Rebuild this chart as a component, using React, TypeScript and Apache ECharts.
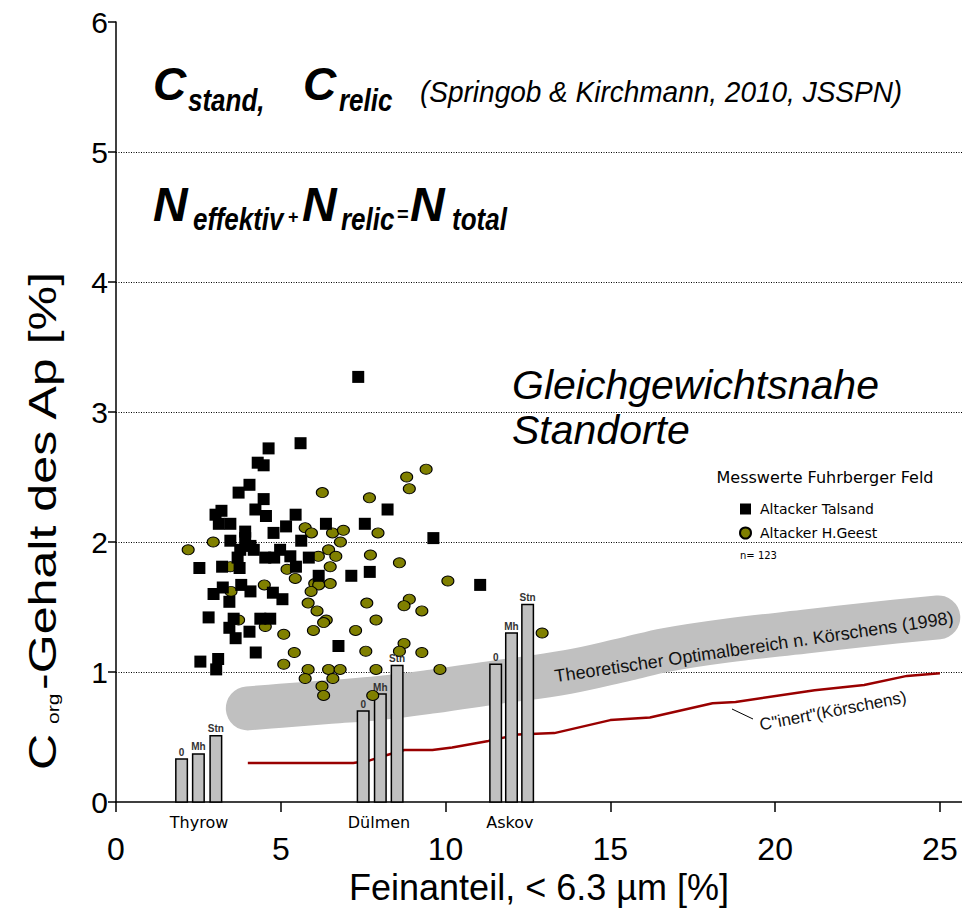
import React, { useEffect, useRef } from 'react';
import * as echarts from 'echarts';

// ---------- data ----------
const xTicks = [0, 5, 10, 15, 20, 25];
const yTicks = [0, 1, 2, 3, 4, 5, 6];

// Messwerte Fuhrberger Feld – Altacker Talsand (squares)
const talsandX = [7.35, 4.63, 5.60, 4.30, 4.48, 4.05, 3.72, 4.48, 8.24, 4.23, 3.02, 3.20, 3.12, 3.47, 4.55, 5.45, 5.16, 6.37, 7.55, 4.78, 3.92, 3.92, 3.47, 4.08, 5.62, 9.63, 3.77, 4.18, 4.98, 4.53, 4.80, 5.29, 5.85, 3.69, 2.53, 3.22, 3.75, 5.46, 6.15, 7.14, 7.70, 11.05, 3.80, 3.24, 2.96, 4.08, 4.76, 5.05, 3.44, 2.81, 3.57, 4.38, 4.68, 3.44, 4.05, 3.63, 6.75, 4.24, 2.56, 3.10, 3.04];
const talsandY = [3.27, 2.72, 2.76, 2.61, 2.59, 2.44, 2.38, 2.33, 2.25, 2.25, 2.21, 2.24, 2.14, 2.14, 2.20, 2.21, 2.12, 2.14, 2.14, 2.07, 2.08, 2.03, 2.01, 1.97, 2.01, 2.03, 1.94, 1.94, 1.94, 1.88, 1.88, 1.89, 1.88, 1.88, 1.80, 1.81, 1.80, 1.81, 1.74, 1.74, 1.77, 1.67, 1.67, 1.65, 1.60, 1.62, 1.61, 1.56, 1.54, 1.42, 1.41, 1.41, 1.41, 1.34, 1.31, 1.26, 1.20, 1.15, 1.08, 1.10, 1.02];

// Altacker H.Geest (olive circles)
const geestX = [9.41, 8.82, 8.90, 6.26, 7.69, 5.74, 5.93, 6.57, 6.90, 7.95, 6.81, 2.19, 2.95, 6.45, 6.14, 6.67, 7.72, 8.60, 6.50, 3.47, 5.19, 5.44, 6.50, 6.03, 6.15, 4.50, 10.07, 3.49, 5.92, 7.61, 8.90, 8.74, 9.28, 5.83, 6.10, 7.89, 6.38, 6.30, 3.72, 4.53, 5.99, 7.27, 5.09, 8.74, 8.60, 9.28, 7.58, 5.41, 5.09, 5.83, 6.45, 6.80, 7.89, 9.83, 5.74, 6.58, 6.25, 6.30, 7.79, 12.93];
const geestY = [2.56, 2.50, 2.41, 2.38, 2.34, 2.11, 2.07, 2.07, 2.09, 2.07, 2.00, 1.94, 2.00, 1.94, 1.89, 1.89, 1.90, 1.84, 1.81, 1.81, 1.79, 1.72, 1.68, 1.68, 1.67, 1.67, 1.70, 1.62, 1.62, 1.53, 1.56, 1.51, 1.47, 1.53, 1.47, 1.40, 1.40, 1.38, 1.40, 1.35, 1.32, 1.32, 1.29, 1.22, 1.16, 1.15, 1.16, 1.15, 1.06, 1.02, 1.02, 1.02, 1.02, 1.02, 0.95, 0.95, 0.89, 0.82, 0.82, 1.30];

// Dauerversuche (bars)
const siteNames = ['Thyrow', 'Dülmen', 'Askov'];
const siteX = [2.52, 7.98, 11.95];
const barX = [1.99, 2.50, 3.03, 7.50, 8.02, 8.53, 11.52, 12.00, 12.49];
const barY = [0.33, 0.37, 0.51, 0.70, 0.83, 1.05, 1.06, 1.30, 1.52];
const barLabels = ['0', 'Mh', 'Stn', '0', 'Mh', 'Stn', '0', 'Mh', 'Stn'];

// C "inert" (Körschens)
const inertX = [4.0, 7.2, 7.7, 8.2, 8.75, 9.6, 10.2, 11.3, 12.2, 13.3, 15.0, 16.2, 18.1, 18.8, 21.2, 22.7, 24.0, 25.0];
const inertY = [0.30, 0.30, 0.32, 0.36, 0.40, 0.40, 0.42, 0.47, 0.52, 0.53, 0.63, 0.65, 0.76, 0.77, 0.86, 0.90, 0.97, 0.99];

// Theoretischer Optimalbereich (band centre line)
const bandX = [4.0, 5.0, 6.5, 8.0, 9.6, 11.5, 13.7, 15.5, 16.7, 18.5, 20.9, 23.0, 24.95];
const bandY = [0.72, 0.74, 0.77, 0.80, 0.85, 0.92, 1.00, 1.10, 1.17, 1.24, 1.31, 1.37, 1.42];

// ---------- styling ----------
const FONT = '"Liberation Sans", Arial, sans-serif';
const SMALL = '"DejaVu Sans", sans-serif';
const BAR_HALF = 0.175;

function txt(text: string, x: number, y: number, size: number, opts: any = {}) {
  return {
    type: 'text',
    x,
    y,
    z: 100,
    rotation: opts.rotation || 0,
    scaleX: opts.scaleX || 1,
    scaleY: opts.scaleY || 1,
    style: {
      text,
      fill: opts.fill || '#000',
      fontSize: size,
      fontFamily: opts.family || FONT,
      fontWeight: opts.weight || 'normal',
      fontStyle: opts.style || 'normal',
      align: opts.align || 'left',
      verticalAlign: opts.valign || 'middle',
    },
  };
}

function buildOption() {
  const BI = { weight: 'bold', style: 'italic' };
  const SUB = { weight: 'bold', style: 'italic', scaleY: 1.18 };
  const yRot = { rotation: Math.PI / 2, scaleX: 1.32 };
  return {
    animation: false,
    backgroundColor: '#fff',
    textStyle: { fontFamily: FONT },
    grid: { left: 116, top: 22, width: 846, height: 780, containLabel: false },
    xAxis: {
      type: 'value',
      min: 0,
      max: 25.67,
      axisLine: { show: true, onZero: false, lineStyle: { color: '#000', width: 1.5 } },
      axisTick: { show: true, length: 10, customValues: xTicks, lineStyle: { color: '#000', width: 1.5 } },
      axisLabel: { customValues: xTicks, fontSize: 32, color: '#000', margin: 31, fontFamily: FONT },
      splitLine: { show: false },
      name: 'Feinanteil, < 6.3 µm [%]',
      nameLocation: 'middle',
      nameGap: 62,
      nameTextStyle: { fontSize: 36, color: '#000', fontFamily: FONT },
    },
    yAxis: {
      type: 'value',
      min: 0,
      max: 6,
      interval: 1,
      axisLine: { show: true, lineStyle: { color: '#000', width: 1.5 } },
      axisTick: { show: true, length: 8, lineStyle: { color: '#000', width: 1.5 } },
      axisLabel: { fontSize: 30, color: '#000', margin: 8, fontFamily: FONT, formatter: (v: number) => (yTicks.includes(v) ? String(v) : '') },
      splitLine: { show: true, showMinLine: false, showMaxLine: false, lineStyle: { color: '#000', type: [1, 1.5], width: 1 } },
    },
    legend: {
      left: 734,
      top: 497,
      orient: 'vertical',
      itemGap: 10,
      itemWidth: 11,
      itemHeight: 11,
      textStyle: { fontFamily: SMALL, fontSize: 14, color: '#000', lineHeight: 14, padding: [0, 0, 0, 4] },
      data: [
        { name: 'Altacker Talsand', icon: 'rect' },
        { name: 'Altacker H.Geest', icon: 'circle' },
      ],
    },
    series: [
      {
        type: 'line',
        name: 'Theoretischer Optimalbereich',
        data: bandX.map((x, i) => [x, bandY[i]]),
        symbol: 'none',
        smooth: 0.4,
        silent: true,
        lineStyle: { color: '#c0c0c0', width: 44, cap: 'round', join: 'round' },
        z: 1,
      },
      {
        type: 'line',
        name: 'C inert',
        data: inertX.map((x, i) => [x, inertY[i]]),
        symbol: 'none',
        silent: true,
        lineStyle: { color: '#990000', width: 2.5 },
        z: 2,
      },
      {
        type: 'custom',
        name: 'Dauerversuche',
        data: barX.map((x, i) => [x, barY[i]]),
        z: 3,
        renderItem: (params: any, api: any) => {
          const x = api.value(0);
          const y = api.value(1);
          const p1 = api.coord([x - BAR_HALF, y]);
          const p2 = api.coord([x + BAR_HALF, 0]);
          return {
            type: 'group',
            children: [
              {
                type: 'rect',
                shape: { x: p1[0], y: p1[1], width: p2[0] - p1[0], height: p2[1] - p1[1] },
                style: { fill: '#c0c0c0', stroke: '#000', lineWidth: 1.5 },
              },
              {
                type: 'text',
                x: (p1[0] + p2[0]) / 2,
                y: p1[1] - 2,
                style: {
                  text: barLabels[params.dataIndex],
                  align: 'center',
                  verticalAlign: 'bottom',
                  fontSize: 10,
                  fontWeight: 'bold',
                  fontFamily: FONT,
                  fill: '#333',
                },
              },
            ],
          };
        },
      },
      {
        type: 'custom',
        name: 'Standorte',
        data: siteX.map((x) => [x, 0]),
        z: 3,
        clip: false,
        renderItem: (params: any, api: any) => {
          const p = api.coord([api.value(0), 0]);
          return {
            type: 'text',
            x: p[0],
            y: p[1] + 20,
            style: {
              text: siteNames[params.dataIndex],
              align: 'center',
              verticalAlign: 'middle',
              fontSize: 16,
              fontFamily: SMALL,
              fill: '#000',
            },
          };
        },
      },
      {
        type: 'scatter',
        name: 'Altacker H.Geest',
        data: geestX.map((x, i) => [x, geestY[i]]),
        symbol: 'circle',
        symbolSize: [12, 10],
        itemStyle: { color: '#808000', borderColor: '#000', borderWidth: 1, opacity: 1 },
        z: 5,
      },
      {
        type: 'scatter',
        name: 'Altacker Talsand',
        data: talsandX.map((x, i) => [x, talsandY[i]]),
        symbol: 'rect',
        symbolSize: 12,
        itemStyle: { color: '#000', opacity: 1 },
        z: 6,
      },
    ],
    graphic: [
      // headline 1
      txt('C', 153, 84, 46, BI),
      txt('stand,', 188, 100, 26, SUB),
      txt('C', 303, 84, 46, BI),
      txt('relic', 339, 100, 26, SUB),
      txt('(Springob & Kirchmann, 2010, JSSPN)', 420, 92, 28, { style: 'italic', scaleY: 1.08 }),
      // headline 2
      txt('N', 153, 204, 48, BI),
      txt('effektiv', 193, 219, 26, SUB),
      txt('+', 288, 217, 18, { weight: 'bold' }),
      txt('N', 302, 204, 48, BI),
      txt('relic', 341, 219, 26, SUB),
      txt('=', 397, 214, 20, { weight: 'bold' }),
      txt('N', 410, 204, 48, BI),
      txt('total', 452, 219, 26, SUB),
      // annotation
      txt('Gleichgewichtsnahe', 512, 385, 41, { style: 'italic' }),
      txt('Standorte', 512, 430, 41, { style: 'italic' }),
      // legend header and n
      txt('Messwerte Fuhrberger Feld', 825, 477, 16, { family: SMALL, align: 'center' }),
      txt('n= 123', 740, 555, 10, { family: SMALL }),
      // band and inert labels
      txt('Theoretischer Optimalbereich n. Körschens (1998)', 754, 647, 18, { align: 'center', rotation: 0.147, fill: '#111' }),
      txt('C"inert"(Körschens)', 833, 711, 17, { align: 'center', rotation: 0.19, fill: '#111' }),
      {
        type: 'line',
        z: 100,
        shape: { x1: 732, y1: 709, x2: 753, y2: 719 },
        style: { stroke: '#000', lineWidth: 1 },
      },
      // y axis title with subscript
      txt('C', 43, 770, 38, yRot),
      txt('org', 53, 724, 16, yRot),
      txt('-Gehalt des Ap [%]', 43, 690, 38, yRot),
    ],
  };
}

export default function App() {
  const ref = useRef<HTMLDivElement>(null);
  useEffect(() => {
    if (!ref.current) return;
    const chart = echarts.init(ref.current, null, { renderer: 'svg' });
    chart.setOption(buildOption() as any);
    return () => chart.dispose();
  }, []);
  return (
    <div
      ref={ref}
      style={{ position: 'absolute', left: 0, top: 0, width: 962, height: 913, background: '#fff' }}
    />
  );
}
